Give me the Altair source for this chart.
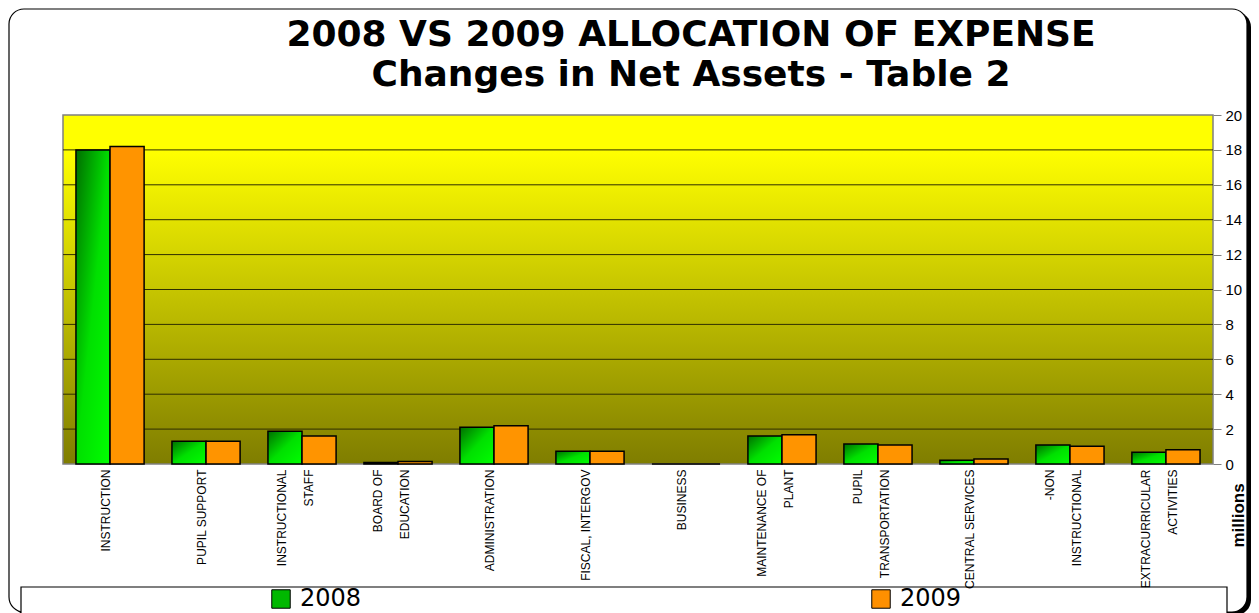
import altair as alt
import pandas as pd

categories = [
    "INSTRUCTION", "PUPIL SUPPORT", "INSTRUCTIONAL\nSTAFF", "BOARD OF\nEDUCATION",
    "ADMINISTRATION", "FISCAL, INTERGOV", "BUSINESS", "MAINTENANCE OF\nPLANT",
    "PUPIL\nTRANSPORTATION", "CENTRAL SERVICES", "-NON\nINSTRUCTIONAL",
    "EXTRACURRICULAR\nACTIVITIES",
]
years = ["2008", "2009"]
values_2008 = [18.0, 1.31, 1.88, 0.08, 2.11, 0.73, 0.0, 1.61, 1.15, 0.21, 1.09, 0.67]
values_2009 = [18.2, 1.31, 1.61, 0.15, 2.19, 0.73, 0.0, 1.67, 1.09, 0.29, 1.02, 0.81]
y_ticks = [0, 2, 4, 6, 8, 10, 12, 14, 16, 18, 20]
grid_values = [2, 4, 6, 8, 10, 12, 14, 16, 18]

rows = []
for c, a, b in zip(categories, values_2008, values_2009):
    rows.append({"category": c, "year": "2008", "value": a})
    rows.append({"category": c, "year": "2009", "value": b})
df = pd.DataFrame(rows)
grid_df = pd.DataFrame({"g": grid_values})
one = pd.DataFrame({"k": [0]})

W, H = 1150, 349

bg_grad = {
    "gradient": "linear", "x1": 0, "y1": 0, "x2": 0, "y2": 1,
    "stops": [
        {"offset": 0, "color": "#FFFF00"},
        {"offset": 0.1, "color": "#FFFF00"},
        {"offset": 1, "color": "#7F7D00"},
    ],
}
green_grad = {
    "gradient": "linear", "x1": 0, "y1": 0, "x2": 1, "y2": 1,
    "stops": [
        {"offset": 0, "color": "#006E00"},
        {"offset": 0.5, "color": "#00E000"},
        {"offset": 1, "color": "#00FF00"},
    ],
}

shadow = alt.Chart(one).mark_rect(fill="black", cornerRadius=15).encode(
    x=alt.value(-50), x2=alt.value(1188), y=alt.value(-103), y2=alt.value(500)
)
frame = alt.Chart(one).mark_rect(fill="white", stroke="black", strokeWidth=1.2, cornerRadius=15).encode(
    x=alt.value(-54), x2=alt.value(1184), y=alt.value(-106), y2=alt.value(497)
)
legend_box = alt.Chart(one).mark_rect(fill="white", stroke="black", strokeWidth=1.2).encode(
    x=alt.value(-42), x2=alt.value(1164), y=alt.value(472), y2=alt.value(530)
)
background = alt.Chart(one).mark_rect(fill=bg_grad, stroke="#808080", strokeWidth=1.5).encode(
    x=alt.value(0), x2=alt.value("width"), y=alt.value(0), y2=alt.value("height")
)

y_scale = alt.Scale(domain=[0, 20], nice=False)
y_axis = alt.Axis(
    orient="right", values=y_ticks, grid=False, domain=False,
    tickColor="#808080", tickSize=8, labelPadding=4, labelFontSize=15,
    labelFont="Liberation Sans", labelColor="black",
    title="millions", titleFont="Liberation Sans", titleFontSize=17,
    titleFontWeight="bold", titleColor="black", titleAngle=270,
    titleX=25, titleY=400, titleAlign="center", titleBaseline="middle",
    zindex=1,
)

grid = alt.Chart(grid_df).mark_rule(color="#2E2E00", strokeWidth=1).encode(
    y=alt.Y("g:Q", scale=y_scale, axis=y_axis, title="millions")
)

bars = alt.Chart(df).mark_bar(stroke="black", strokeWidth=1.5).encode(
    x=alt.X(
        "category:N", sort=categories,
        scale=alt.Scale(paddingInner=0.29, paddingOuter=0.135),
        axis=alt.Axis(
            title=None, orient="bottom", labelAngle=-90, labelAlign="right",
            labelBaseline="middle", ticks=False, domain=False, grid=False,
            labelPadding=5, labelFontSize=12, labelFont="Liberation Sans",
            labelColor="black", labelLineHeight=27,
            labelOffset={"expr": "indexof(datum.label, '\\n') >= 0 ? -20 : -4"},
            labelExpr="split(datum.label, '\\n')", labelLimit=300, zindex=1,
        ),
    ),
    xOffset=alt.XOffset("year:N", sort=years, scale=alt.Scale(domain=years, paddingInner=0)),
    y=alt.Y("value:Q", scale=y_scale, axis=y_axis, title="millions"),
    fill=alt.condition(alt.datum.year == "2008", alt.value(green_grad), alt.value("#FF9400")),
)

legend_layer = alt.Chart(df).transform_filter("false").mark_square().encode(
    color=alt.Color(
        "year:N",
        scale=alt.Scale(domain=years, range=["#00B800", "#FF9000"]),
        legend=alt.Legend(
            title=None, orient="none", legendX=206, legendY=472, direction="horizontal",
            symbolType="square", symbolSize=340, symbolStrokeColor="black",
            symbolStrokeWidth=1, symbolOpacity=1, labelFontSize=24,
            labelFont="DejaVu Sans", labelColor="black", columnPadding=507,
            labelOffset=7, zindex=1,
        ),
    )
)

chart = alt.layer(shadow, frame, legend_box, background, grid, bars, legend_layer).properties(
    width=W, height=H,
    padding={"left": 55, "top": 107, "right": 38, "bottom": 152},
    autosize=alt.AutoSizeParams(type="none"),
    title=alt.TitleParams(
        text=["2008 VS 2009 ALLOCATION OF EXPENSE", "Changes in Net Assets - Table 2"],
        font="DejaVu Sans", fontSize=36, fontWeight="bold", color="black",
        anchor="middle", dx=53, dy=108, offset=22, lineHeight=40, zindex=1,
    ),
).configure_view(stroke=None).configure(background="white")

chart.save("out.html", embed_options={"renderer": "svg", "actions": False})
